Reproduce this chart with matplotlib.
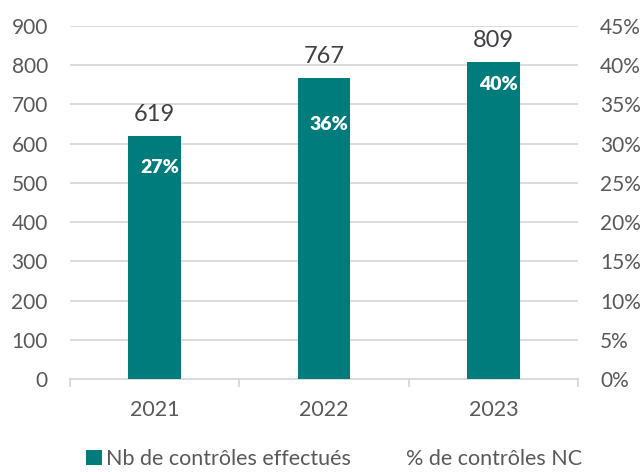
import matplotlib as mp
mp.use("Agg")
import matplotlib.pyplot as plt
from matplotlib.patches import Patch
from matplotlib.lines import Line2D

years = ["2021", "2022", "2023"]
nb_controles = [619, 767, 809]
pct_nc = [27, 36, 40]
pct_label_pos = [27, 32.5, 37.5]   # where the % labels sit (right axis units)

teal = "#007C7C"
grey = "#595959"
grid = "#D9D9D9"

plt.rcParams.update({
    "font.family": ["Lato", "DejaVu Sans"],
    "text.color": grey,
})

fig = plt.figure(figsize=(6.42, 4.72), dpi=100)
ax = fig.add_axes([70/642, 1 - 379/472, 508/642, 353/472])
ax2 = ax.twinx()

x = list(range(len(years)))
bars = ax.bar(x, nb_controles, width=0.31, color=teal, zorder=3)

ax.set_xlim(-0.5, 2.5)
ax.set_ylim(0, 900)
ax.set_yticks(range(0, 901, 100))
ax.grid(axis="y", color=grid, linewidth=1.3, zorder=0)
ax2.set_ylim(0, 45)
ax2.set_yticks(range(0, 46, 5))
ax2.set_yticklabels([f"{v}%" for v in range(0, 46, 5)])

for a in (ax, ax2):
    for s in a.spines.values():
        s.set_visible(False)
    a.tick_params(axis="y", length=0, labelsize=15, labelcolor=grey, pad=16)
ax.spines["bottom"].set_visible(True)
ax.spines["bottom"].set_color(grid)
ax.spines["bottom"].set_linewidth(1.3)

# category ticks at the boundaries, label in the middle
ax.set_xticks([-0.5, 0.5, 1.5, 2.5])
ax.set_xticklabels([])
ax.tick_params(axis="x", which="major", length=6, color=grid, width=1.3)
ax.set_xticks(x, minor=True)
ax.set_xticklabels(years, minor=True)
ax.tick_params(axis="x", which="minor", length=0, labelsize=15.5, labelcolor=grey, pad=15)

for xi, v in zip(x, nb_controles):
    ax.annotate(f"{v}", (xi, v), xytext=(0, 8), textcoords="offset points",
                ha="center", va="bottom", fontsize=17, color="#404040")

ax2.plot(x, pct_nc, color="none")
for xi, p, yp in zip(x, pct_nc, pct_label_pos):
    ax2.text(xi + 0.03, yp, f"{p}%", ha="center", va="center", fontsize=14,
             fontweight="heavy", color="white", zorder=5)

handles = [Patch(facecolor=teal, edgecolor="none"), Line2D([], [], color="none")]
fig.legend(handles, ["Nb de contrôles effectués", "% de contrôles NC"],
           loc="center", bbox_to_anchor=(334/642, 1 - 459/472), ncol=2,
           frameon=False, fontsize=15.5, handlelength=0.75, handleheight=0.75,
           handletextpad=0.2, columnspacing=1.6, labelcolor=grey,
           borderpad=0.1)

plt.savefig("out.png", dpi=100)
